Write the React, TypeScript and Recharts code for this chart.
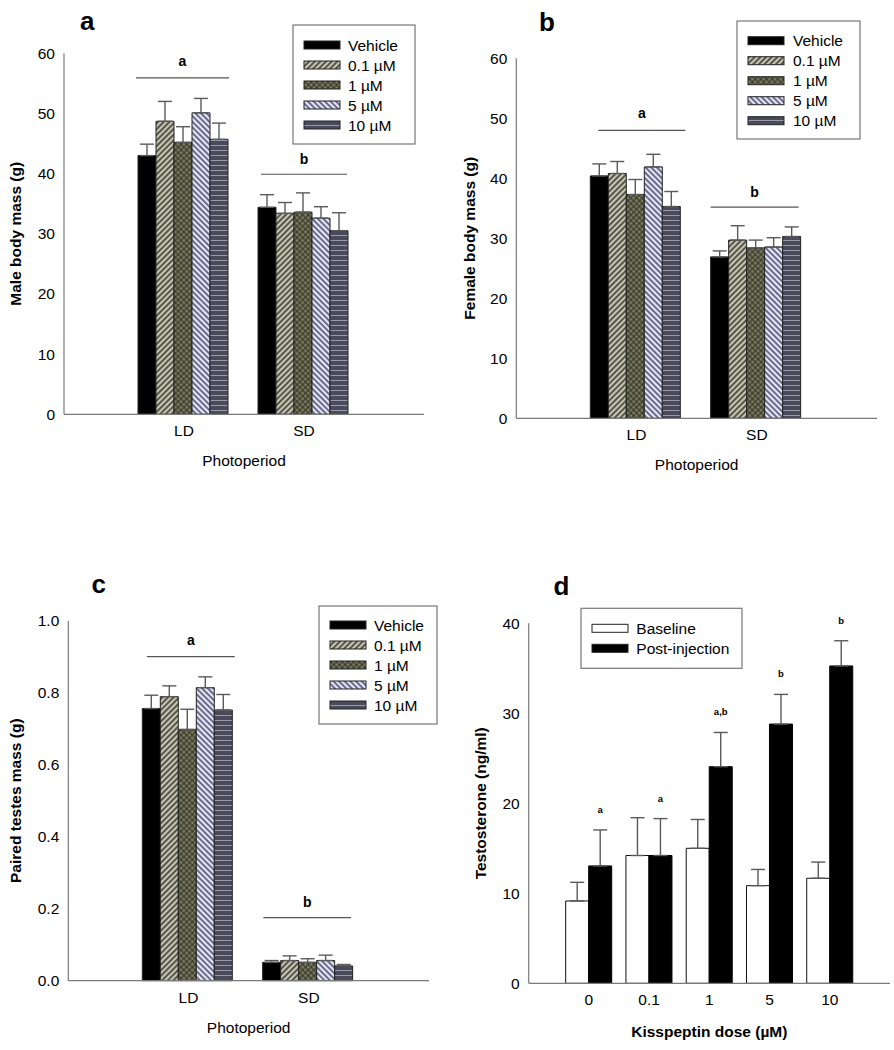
import React from 'react';
import { BarChart, Bar, XAxis, YAxis, ErrorBar, LabelList } from 'recharts';

const FONT = '"Liberation Sans", Arial, Helvetica, sans-serif';

// ---------- data ----------
const photoperiods = ['LD', 'SD'];
const doseGroups = ['Vehicle', '0.1 µM', '1 µM', '5 µM', '10 µM'];

const maleLD = [43.0, 48.7, 45.2, 50.1, 45.7];
const maleLDErr = [1.9, 3.3, 2.6, 2.4, 2.7];
const maleSD = [34.4, 33.4, 33.6, 32.6, 30.5];
const maleSDErr = [2.1, 1.8, 3.2, 1.9, 3.0];

const femaleLD = [40.4, 40.8, 37.3, 41.9, 35.3];
const femaleLDErr = [2.0, 2.0, 2.5, 2.1, 2.5];
const femaleSD = [26.9, 29.7, 28.4, 28.55, 30.3];
const femaleSDErr = [1.0, 2.4, 1.3, 1.55, 1.6];

const testesLD = [0.756, 0.789, 0.698, 0.814, 0.752];
const testesLDErr = [0.037, 0.03, 0.056, 0.03, 0.043];
const testesSD = [0.051, 0.056, 0.051, 0.056, 0.041];
const testesSDErr = [0.005, 0.013, 0.01, 0.015, 0.004];

const kissDoses = ['0', '0.1', '1', '5', '10'];
const baselineT = [9.15, 14.2, 15.0, 10.85, 11.67];
const baselineTErr = [2.07, 4.2, 3.2, 1.8, 1.8];
const postT = [13.04, 14.2, 24.07, 28.8, 35.26];
const postTErr = [4.0, 4.1, 3.8, 3.3, 2.8];
const postLetters = ['a', 'a', 'a,b', 'b', 'b'];

const groupSigLetters = ['a', 'b'];
const maleSigY = [55.9, 39.9];
const femaleSigY = [48.0, 35.2];
const testesSigY = [0.9, 0.175];

const massTicks = [0, 10, 20, 30, 40, 50, 60];
const testesTicks = [0, 0.2, 0.4, 0.6, 0.8, 1.0];
const testoTicks = [0, 10, 20, 30, 40];

// ---------- styling ----------
const seriesFills = ['#000000', 'url(#pat01)', 'url(#pat1)', 'url(#pat5)', 'url(#pat10)'];

function buildGroupRows(ld: number[], ldErr: number[], sd: number[], sdErr: number[]) {
  return photoperiods.map((p, i) => {
    const vals = i === 0 ? ld : sd;
    const errs = i === 0 ? ldErr : sdErr;
    const row: any = { period: p };
    doseGroups.forEach((_, j) => {
      row['v' + j] = vals[j];
      row['e' + j] = [0, errs[j]];
    });
    return row;
  });
}

const maleRows = buildGroupRows(maleLD, maleLDErr, maleSD, maleSDErr);
const femaleRows = buildGroupRows(femaleLD, femaleLDErr, femaleSD, femaleSDErr);
const testesRows = buildGroupRows(testesLD, testesLDErr, testesSD, testesSDErr);

const testoRows = kissDoses.map((d, i) => ({
  dose: d,
  base: baselineT[i],
  baseErr: [0, baselineTErr[i]],
  post: postT[i],
  postErr: [0, postTErr[i]],
  letter: postLetters[i],
}));

const axisColor = '#7a7a7a';
const errColor = '#5a5a5a';

function geom(props: any) {
  const vb = props.viewBox || {};
  return {
    x: Number(props.x ?? vb.x),
    y: Number(props.y ?? vb.y),
    width: Number(props.width ?? vb.width),
    height: Number(props.height ?? vb.height),
  };
}

// draws the significance bar + letter over each photoperiod group, using the
// first bar's geometry (pixel scale derived from bar height / value)
function makeSigRenderer(rows: any[], sigY: number[], pad: number[][]) {
  return (props: any) => {
    const index = props.index;
    const { x, y, width, height } = geom(props);
    const v = rows[index].v0;
    const pxPerUnit = Math.abs(height) / v;
    const base = Math.max(y, y + height);
    const ly = base - sigY[index] * pxPerUnit;
    const x1 = x + pad[index][0];
    const x2 = x + width * doseGroups.length + pad[index][1];
    const letter = groupSigLetters[index];
    const off = letter === 'a' ? 12 : 10.5;
    return (
      <g key={'sig' + index}>
        <line x1={x1} x2={x2} y1={ly} y2={ly} stroke="#555" strokeWidth={1.2} />
        <text x={(x1 + x2) / 2} y={ly - off} textAnchor="middle" fontSize={14} fontWeight="bold"
          fontFamily={FONT} fill="#000">{letter}</text>
      </g>
    );
  };
}

type GroupPanelProps = {
  rows: any[];
  left: number; top: number; width: number; height: number;
  margin: { top: number; right: number; bottom: number; left: number };
  yAxisWidth: number; xAxisHeight: number; yLabelOffset: number;
  domain: [number, number]; ticks: number[]; tickFmt?: (v: number) => string;
  yLabel: string;
  sigY: number[]; sigPad: number[][];
};

function GroupPanel(p: GroupPanelProps) {
  const sigRenderer = makeSigRenderer(p.rows, p.sigY, p.sigPad);
  return (
    <div style={{ position: 'absolute', left: p.left, top: p.top }}>
      <BarChart width={p.width} height={p.height} data={p.rows} margin={p.margin}
        barCategoryGap={14} barGap={0}>
        <XAxis dataKey="period" padding={{ left: 60, right: 60 }} height={p.xAxisHeight}
          axisLine={{ stroke: axisColor, strokeWidth: 1.2 }} tickLine={false} tickSize={0} tickMargin={11}
          tick={{ fill: '#000', fontSize: 15.5, fontFamily: FONT }}
          label={{ value: 'Photoperiod', position: 'insideBottom', offset: 0, fill: '#000', fontSize: 15.5, fontFamily: FONT }} />
        <YAxis domain={p.domain} ticks={p.ticks} width={p.yAxisWidth} interval={0}
          tickFormatter={p.tickFmt}
          axisLine={{ stroke: axisColor, strokeWidth: 1.2 }} tickLine={false} tickSize={0} tickMargin={9}
          tick={{ fill: '#000', fontSize: 15.5, fontFamily: FONT }}
          label={{ value: p.yLabel, angle: -90, position: 'insideLeft', offset: p.yLabelOffset,
            style: { textAnchor: 'middle' }, fill: '#000', fontSize: 15.5, fontWeight: 'bold', fontFamily: FONT }} />
        {doseGroups.map((g, j) => (
          <Bar key={g} dataKey={'v' + j} name={g} fill={seriesFills[j]} stroke="#222" strokeWidth={1}
            isAnimationActive={false}>
            <ErrorBar dataKey={'e' + j} width={7} stroke={errColor} strokeWidth={1.4} direction="y" />
            {j === 0 ? <LabelList dataKey="v0" content={sigRenderer} /> : null}
          </Bar>
        ))}
      </BarChart>
    </div>
  );
}

function renderLetter(props: any) {
  const index = props.index;
  const { x, y, width, height } = geom(props);
  const v = postT[index];
  const pxPerUnit = Math.abs(height) / v;
  const errTop = Math.min(y, y + height) - postTErr[index] * pxPerUnit;
  return (
    <text key={'lt' + index} x={x + width / 2} y={errTop - 17} textAnchor="middle" fontSize={9.5}
      fontWeight="bold" fontFamily={FONT} fill="#000">{postLetters[index]}</text>
  );
}

function TestoPanel() {
  return (
    <div style={{ position: 'absolute', left: 447, top: 540 }}>
      <BarChart width={447} height={510} data={testoRows}
        margin={{ top: 83.3, right: 4, bottom: 13.5, left: 0 }} barCategoryGap={7} barGap={0}>
        <XAxis dataKey="dose" padding={{ left: 30, right: 30 }} height={53.2}
          axisLine={{ stroke: axisColor, strokeWidth: 1.2 }} tickLine={false} tickSize={0} tickMargin={11}
          tick={{ fill: '#000', fontSize: 15.5, fontFamily: FONT }}
          label={{ value: 'Kisspeptin dose (µM)', position: 'insideBottom', offset: 0, fill: '#000',
            fontSize: 15.5, fontWeight: 'bold', fontFamily: FONT }} />
        <YAxis domain={[0, 40]} ticks={testoTicks} width={81.7} interval={0}
          axisLine={{ stroke: axisColor, strokeWidth: 1.2 }} tickLine={false} tickSize={0} tickMargin={9}
          tick={{ fill: '#000', fontSize: 15.5, fontFamily: FONT }}
          label={{ value: 'Testosterone (ng/ml)', angle: -90, position: 'insideLeft', offset: 33.3,
            style: { textAnchor: 'middle' }, fill: '#000', fontSize: 15.5, fontWeight: 'bold', fontFamily: FONT }} />
        <Bar dataKey="base" name="Baseline" fill="#ffffff" stroke="#111" strokeWidth={1} isAnimationActive={false}>
          <ErrorBar dataKey="baseErr" width={7} stroke={errColor} strokeWidth={1.4} direction="y" />
        </Bar>
        <Bar dataKey="post" name="Post-injection" fill="#000000" stroke="#000" strokeWidth={1} isAnimationActive={false}>
          <ErrorBar dataKey="postErr" width={7} stroke={errColor} strokeWidth={1.4} direction="y" />
          <LabelList dataKey="letter" content={renderLetter} />
        </Bar>
      </BarChart>
    </div>
  );
}

type LegendItem = { name: string; fill: string };
function LegendBox({ x, y, w, h, rowY0, swatchX, textX, items }:
  { x: number; y: number; w: number; h: number; rowY0: number; swatchX: number; textX: number; items: LegendItem[] }) {
  return (
    <g>
      <rect x={x} y={y} width={w} height={h} fill="#fff" stroke="#777" strokeWidth={1.2} />
      {items.map((it, i) => (
        <g key={it.name}>
          <rect x={swatchX} y={rowY0 + i * 20 - 4} width={36} height={8} fill={it.fill} stroke="#222" strokeWidth={1} />
          <text x={textX} y={rowY0 + i * 20 + 5.5} fontSize={15.5} fontFamily={FONT} fill="#000">{it.name}</text>
        </g>
      ))}
    </g>
  );
}

const groupLegendItems = doseGroups.map((g, j) => ({ name: g, fill: seriesFills[j] }));
const testoLegendItems = [{ name: 'Baseline', fill: '#ffffff' }, { name: 'Post-injection', fill: '#000000' }];

function Overlay() {
  return (
    <svg width={894} height={1050} style={{ position: 'absolute', left: 0, top: 0, pointerEvents: 'none' }}>
      <defs>
        <pattern id="pat01" width="4" height="4" patternUnits="userSpaceOnUse" patternTransform="rotate(45)">
          <rect width="4" height="4" fill="#c6c6b3" />
          <line x1="2" y1="0" x2="2" y2="4" stroke="#26261f" strokeWidth="1.4" />
        </pattern>
        <pattern id="pat1" width="4" height="4" patternUnits="userSpaceOnUse" patternTransform="rotate(45)">
          <rect width="4" height="4" fill="#7f7f64" />
          <line x1="0" y1="2" x2="4" y2="2" stroke="#2a2a20" strokeWidth="1" />
          <line x1="2" y1="0" x2="2" y2="4" stroke="#2a2a20" strokeWidth="1" />
        </pattern>
        <pattern id="pat5" width="4" height="4" patternUnits="userSpaceOnUse" patternTransform="rotate(-45)">
          <rect width="4" height="4" fill="#e6e6fb" />
          <line x1="2" y1="0" x2="2" y2="4" stroke="#2a2a4a" strokeWidth="1.3" />
        </pattern>
        <pattern id="pat10" width="5" height="5" patternUnits="userSpaceOnUse">
          <rect width="5" height="5" fill="#4a4a5a" />
          <line x1="0" y1="0.5" x2="5" y2="0.5" stroke="#9a9aac" strokeWidth="1" />
        </pattern>
      </defs>
      <text x={80} y={30} fontSize={26} fontWeight="bold" fontFamily={FONT}>a</text>
      <text x={539} y={31} fontSize={26} fontWeight="bold" fontFamily={FONT}>b</text>
      <text x={91.5} y={593} fontSize={26} fontWeight="bold" fontFamily={FONT}>c</text>
      <text x={553.5} y={595} fontSize={26} fontWeight="bold" fontFamily={FONT}>d</text>
      <LegendBox x={293} y={25} w={122} h={119} rowY0={45} swatchX={304} textX={348} items={groupLegendItems} />
      <LegendBox x={737} y={21} w={123} h={118} rowY0={40.7} swatchX={748} textX={793} items={groupLegendItems} />
      <LegendBox x={319} y={606} w={118} h={118} rowY0={625} swatchX={330} textX={374} items={groupLegendItems} />
      <LegendBox x={581} y={608.3} w={161} h={60} rowY0={628.3} swatchX={592} textX={636.3} items={testoLegendItems} />
    </svg>
  );
}

export default function App() {
  return (
    <div style={{ position: 'absolute', left: 0, top: 0, width: 894, height: 1050, background: '#fff', fontFamily: FONT }}>
      <GroupPanel rows={maleRows} left={0} top={0} width={447} height={480}
        margin={{ top: 53.3, right: 23, bottom: 14, left: 0 }} yAxisWidth={64} xAxisHeight={51.7} yLabelOffset={15.8}
        domain={[0, 60]} ticks={massTicks} yLabel="Male body mass (g)"
        sigY={maleSigY} sigPad={[[-2, 1], [3, -1]]} />
      <GroupPanel rows={femaleRows} left={447} top={0} width={447} height={480}
        margin={{ top: 58.3, right: 17, bottom: 10, left: 0 }} yAxisWidth={69.3} xAxisHeight={51.7} yLabelOffset={22.5}
        domain={[0, 60]} ticks={massTicks} yLabel="Female body mass (g)"
        sigY={femaleSigY} sigPad={[[8, 5], [0, -2]]} />
      <GroupPanel rows={testesRows} left={0} top={540} width={447} height={510}
        margin={{ top: 80.7, right: 18, bottom: 17, left: 0 }} yAxisWidth={68.3} xAxisHeight={52.3} yLabelOffset={15.8}
        domain={[0, 1]} ticks={testesTicks} tickFmt={(v: number) => v.toFixed(1)} yLabel="Paired testes mass (g)"
        sigY={testesSigY} sigPad={[[4.6, 2.4], [0.7, -1.6]]} />
      <TestoPanel />
      <Overlay />
    </div>
  );
}
